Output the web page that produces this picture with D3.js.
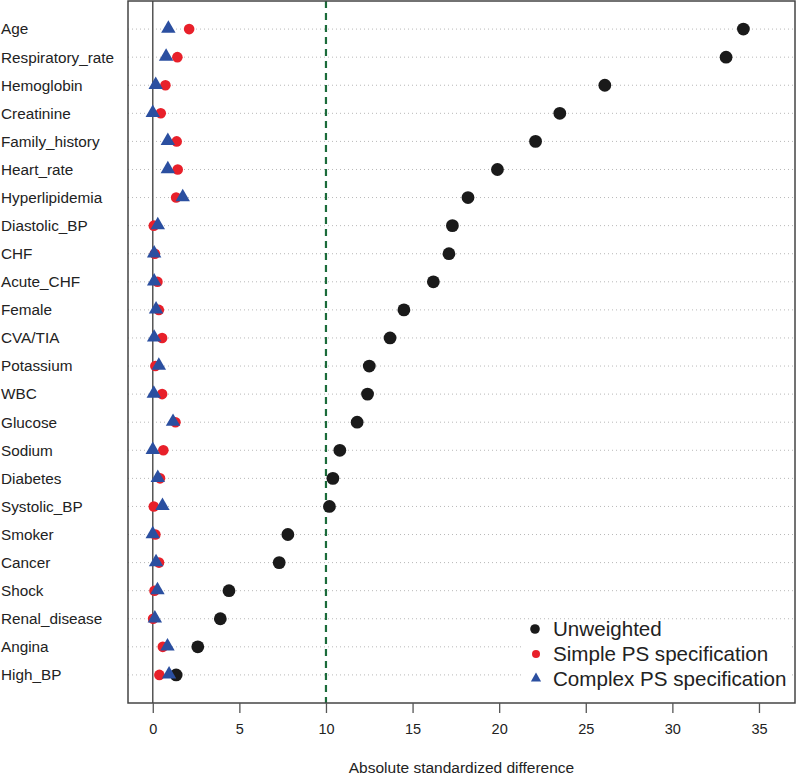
<!DOCTYPE html>
<html>
<head>
<meta charset="utf-8">
<script src="https://cdn.jsdelivr.net/npm/d3@7"></script>
<style>
  body { margin: 0; background: #fff; }
  svg { display: block; font-family: "Liberation Sans", Arial, sans-serif; }
</style>
</head>
<body>
<div id="chart"></div>
<script>
// Covariables (de haut en bas)
const categories = ["Age", "Respiratory_rate", "Hemoglobin", "Creatinine", "Family_history",
  "Heart_rate", "Hyperlipidemia", "Diastolic_BP", "CHF", "Acute_CHF", "Female", "CVA/TIA",
  "Potassium", "WBC", "Glucose", "Sodium", "Diabetes", "Systolic_BP", "Smoker", "Cancer",
  "Shock", "Renal_disease", "Angina", "High_BP"];

// Différences standardisées absolues
const unweighted = [34.1, 33.1, 26.1, 23.5, 22.1, 19.9, 18.2, 17.3, 17.1, 16.2, 14.5, 13.7,
  12.5, 12.4, 11.8, 10.8, 10.4, 10.2, 7.8, 7.3, 4.4, 3.9, 2.6, 1.35];
const simplePS = [2.1, 1.42, 0.73, 0.46, 1.38, 1.44, 1.35, 0.06, 0.12, 0.27, 0.35, 0.54,
  0.15, 0.54, 1.31, 0.61, 0.42, 0.06, 0.15, 0.36, 0.1, 0.02, 0.58, 0.38];
const complexPS = [0.9, 0.77, 0.17, 0.0, 0.87, 0.87, 1.73, 0.29, 0.08, 0.08, 0.19, 0.08,
  0.35, 0.06, 1.17, 0.0, 0.29, 0.56, 0.0, 0.19, 0.27, 0.12, 0.85, 0.94];

const xTicks = [0, 5, 10, 15, 20, 25, 30, 35];
const threshold = 10;
const legendLabels = ["Unweighted", "Simple PS specification", "Complex PS specification"];

const W = 800, H = 775;
const box = { left: 128, right: 795, top: 1, bottom: 703 };

const svg = d3.select("#chart").append("svg")
  .attr("width", W).attr("height", H);

const x = d3.scaleLinear().domain([-1.43, 37.08]).range([box.left, box.right]);
const y = d3.scalePoint().domain(categories).range([box.top, box.bottom]).padding(1);

// Lignes pointillées horizontales
svg.append("g").selectAll("line")
  .data(categories).enter().append("line")
  .attr("x1", box.left).attr("x2", box.right)
  .attr("y1", d => y(d)).attr("y2", d => y(d))
  .attr("stroke", "#b8b8b8").attr("stroke-width", 1)
  .attr("stroke-dasharray", "1,3");

// Fond blanc de la légende
svg.append("rect")
  .attr("x", 524).attr("y", 628).attr("width", 268).attr("height", 64)
  .attr("fill", "#fff");

// Ligne zéro
svg.append("line")
  .attr("x1", x(0)).attr("x2", x(0))
  .attr("y1", box.top).attr("y2", box.bottom)
  .attr("stroke", "#555").attr("stroke-width", 1.5);

// Seuil 10
svg.append("line")
  .attr("x1", x(threshold)).attr("x2", x(threshold))
  .attr("y1", box.top).attr("y2", box.bottom)
  .attr("stroke", "#1b6b3a").attr("stroke-width", 2.2)
  .attr("stroke-dasharray", "7,5");

// Points
svg.append("g").selectAll("circle")
  .data(categories).enter().append("circle")
  .attr("cx", (d, i) => x(unweighted[i])).attr("cy", d => y(d))
  .attr("r", 6.4).attr("fill", "#1a1a1a");

svg.append("g").selectAll("circle")
  .data(categories).enter().append("circle")
  .attr("cx", (d, i) => x(simplePS[i])).attr("cy", d => y(d))
  .attr("r", 5.3).attr("fill", "#e8202a");

const tri = d3.symbol().type(d3.symbolTriangle).size(90);
svg.append("g").selectAll("path")
  .data(categories).enter().append("path")
  .attr("d", tri)
  .attr("transform", (d, i) => `translate(${x(complexPS[i])},${y(d) - 0.5})`)
  .attr("fill", "#2b4fa0");

// Cadre
svg.append("rect")
  .attr("x", box.left).attr("y", box.top)
  .attr("width", box.right - box.left).attr("height", box.bottom - box.top)
  .attr("fill", "none").attr("stroke", "#444").attr("stroke-width", 1.5);

// Étiquettes des catégories
svg.append("g").selectAll("text")
  .data(categories).enter().append("text")
  .attr("x", 1).attr("y", d => y(d)).attr("dy", "0.35em")
  .attr("font-size", "15.3px").attr("fill", "#222")
  .text(d => d);

// Axe X
const xAxis = svg.append("g")
  .attr("transform", `translate(0,${box.bottom})`)
  .call(d3.axisBottom(x).tickValues(xTicks).tickSize(10).tickPadding(11).tickFormat(d3.format("d")));
xAxis.select(".domain").remove();
xAxis.selectAll(".tick line").attr("stroke", "#555").attr("stroke-width", 1.3);
xAxis.selectAll(".tick text").attr("font-size", "14.5px").attr("fill", "#222")
  .attr("font-family", "Liberation Sans, Arial, sans-serif");

svg.append("text")
  .attr("x", (box.left + box.right) / 2).attr("y", 768)
  .attr("dy", "0.35em").attr("text-anchor", "middle")
  .attr("font-size", "15.5px").attr("fill", "#222")
  .text("Absolute standardized difference");

// Légende
const legendY = [629, 654, 679];
const legend = svg.append("g");
legend.append("circle").attr("cx", 535).attr("cy", legendY[0]).attr("r", 4.8).attr("fill", "#1a1a1a");
legend.append("circle").attr("cx", 536).attr("cy", legendY[1]).attr("r", 4).attr("fill", "#e8202a");
legend.append("path").attr("d", d3.symbol().type(d3.symbolTriangle).size(45))
  .attr("transform", `translate(536,${legendY[2] - 0.5})`).attr("fill", "#2b4fa0");
legend.selectAll("text")
  .data(legendLabels).enter().append("text")
  .attr("x", 553).attr("y", (d, i) => legendY[i]).attr("dy", "0.35em")
  .attr("font-size", "20.6px").attr("fill", "#222")
  .text(d => d);
</script>
</body>
</html>
